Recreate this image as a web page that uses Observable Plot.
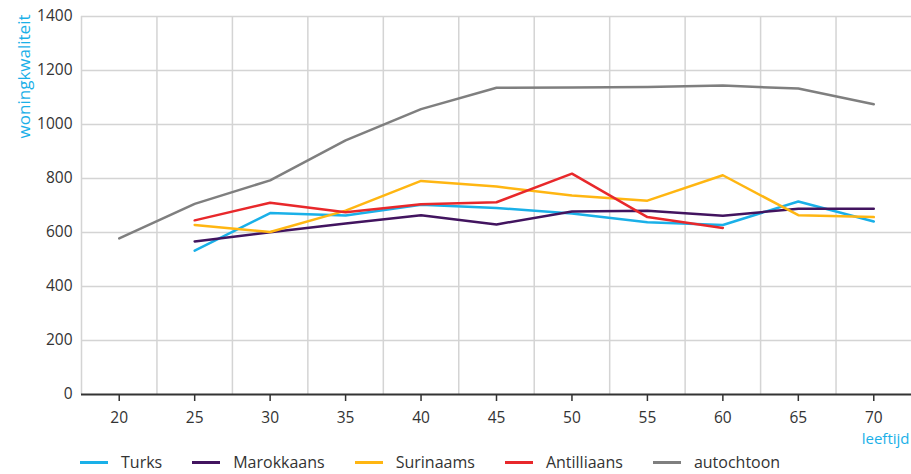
<!DOCTYPE html>
<html>
<head>
<meta charset="utf-8">
<script src="https://cdn.jsdelivr.net/npm/d3@7"></script>
<script src="https://cdn.jsdelivr.net/npm/@observablehq/plot@0.6"></script>
<style>
  html, body { margin: 0; padding: 0; background: #fff; }
  body { width: 911px; height: 474px; overflow: hidden; font-family: "Open Sans", Lato, sans-serif; }
  #chart svg { display: block; }
  .legend { display: flex; align-items: center; margin-left: 80px; margin-top: 2px; height: 17px; font-size: 16px; color: #333; line-height: 17px; }
  .legend .item { display: flex; align-items: center; margin-right: 30px; }
  .legend .sw { width: 28px; height: 3px; margin-right: 13px; }
</style>
</head>
<body>
<div id="chart"></div>
<div class="legend" id="legend"></div>
<script>
const ages = [20, 25, 30, 35, 40, 45, 50, 55, 60, 65, 70];
const seriesNames = ["Turks", "Marokkaans", "Surinaams", "Antilliaans", "autochtoon"];
const turks       = [null, 533, 672, 663, 703, 691, 670, 638, 628, 715, 641];
const marokkaans  = [null, 567, 601, 633, 664, 630, 678, 681, 662, 688, 688];
const surinaams   = [null, 628, 602, 681, 791, 770, 737, 718, 812, 664, 657];
const antilliaans = [null, 645, 710, 675, 705, 712, 818, 657, 617, null, null];
const autochtoon  = [578, 706, 793, 941, 1057, 1136, 1137, 1139, 1144, 1133, 1075];
const yTicks = [0, 200, 400, 600, 800, 1000, 1200, 1400];
const xGrid = [17.5, 22.5, 27.5, 32.5, 37.5, 42.5, 47.5, 52.5, 57.5, 62.5, 67.5];
const colors = ["#1ab0e8", "#42145f", "#ffb612", "#e8282b", "#7f7f7f"];

const values = [turks, marokkaans, surinaams, antilliaans, autochtoon];
const rows = [];
seriesNames.forEach((name, i) => {
  ages.forEach((a, j) => {
    const v = values[i][j];
    if (v != null) rows.push({serie: name, age: a, value: v});
  });
});

const textColor = "#333";
const chart = Plot.plot({
  width: 911,
  height: 452,
  marginLeft: 81,
  marginRight: 0,
  marginTop: 16,
  marginBottom: 58,
  style: {fontFamily: "'Open Sans', Lato, sans-serif", fontSize: "15.5px", color: textColor},
  x: {domain: [17.5, 72.5]},
  y: {domain: [0, 1400]},
  color: {domain: seriesNames, range: colors},
  marks: [
    Plot.gridY(yTicks.slice(1), {stroke: "#d4d4d4", strokeOpacity: 1, strokeWidth: 1.5}),
    Plot.gridX(xGrid, {stroke: "#d4d4d4", strokeOpacity: 1, strokeWidth: 1.5}),
    Plot.axisY(yTicks, {tickSize: 0, tickPadding: 9, label: null, fill: textColor, tickFormat: d => String(d)}),
    Plot.axisX(ages, {tickSize: 7, tickPadding: 10, label: null, stroke: textColor, strokeWidth: 1.5, fill: textColor, tickFormat: d => String(d)}),
    Plot.ruleY([0], {stroke: "#333", strokeWidth: 2}),
    Plot.line(rows, {x: "age", y: "value", z: "serie", stroke: "serie", strokeWidth: 2.5}),
    Plot.text(["leeftijd"], {frameAnchor: "bottom-right", dy: 49, dx: -2, textAnchor: "end", fill: "#1ab0e8", fontSize: 15}),
    Plot.text(["woningkwaliteit"], {frameAnchor: "top-left", rotate: -90, textAnchor: "end", dx: -64, dy: -2, fill: "#1ab0e8", fontSize: 17})
  ]
});
document.getElementById("chart").appendChild(chart);

const legend = document.getElementById("legend");
seriesNames.forEach((name, i) => {
  const item = document.createElement("div");
  item.className = "item";
  const sw = document.createElement("span");
  sw.className = "sw";
  sw.style.background = colors[i];
  const label = document.createElement("span");
  label.textContent = name;
  item.appendChild(sw);
  item.appendChild(label);
  legend.appendChild(item);
});
</script>
</body>
</html>
